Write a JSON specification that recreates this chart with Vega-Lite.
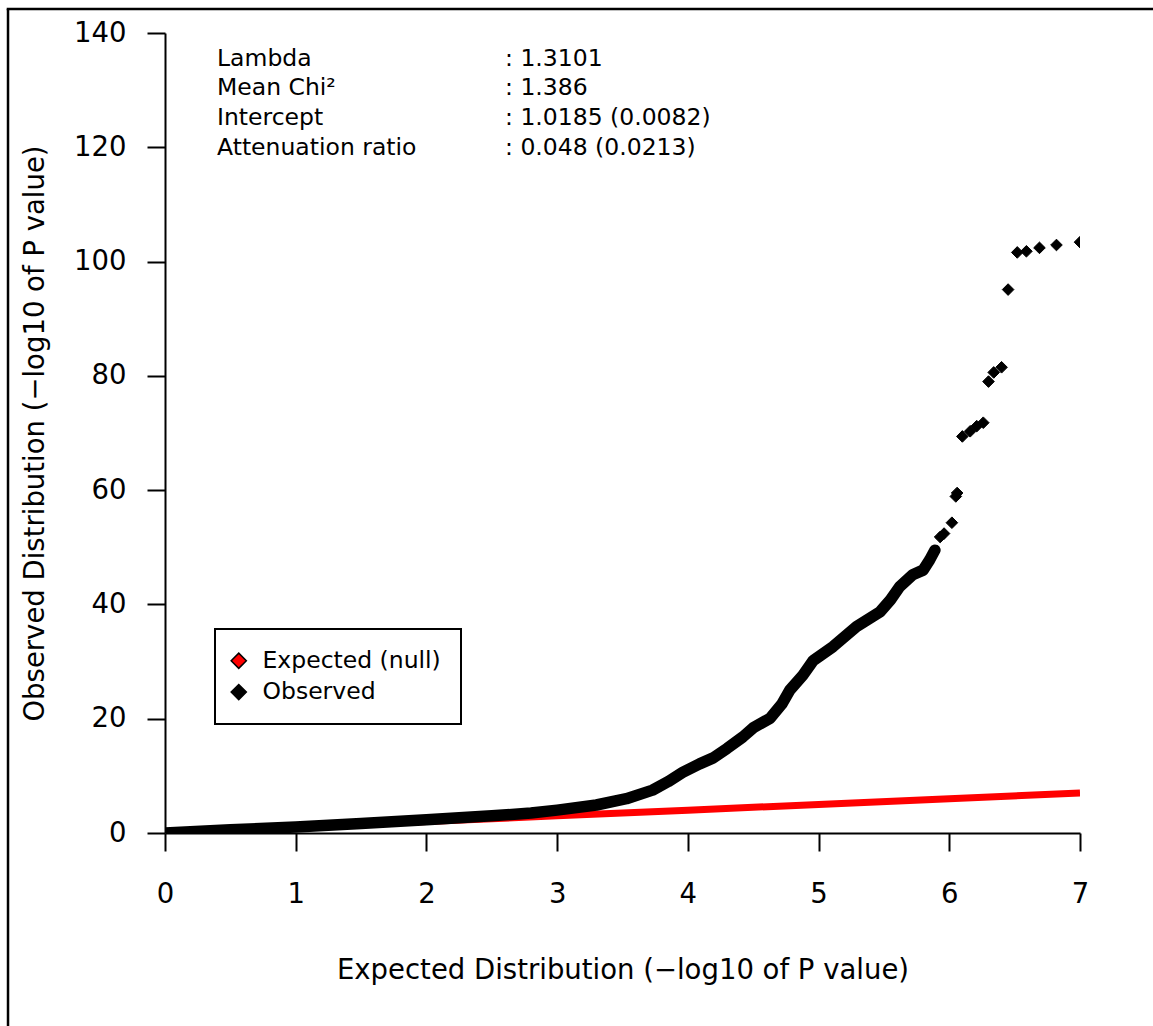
{
  "$schema": "https://vega.github.io/schema/vega-lite/v6.json",
  "width": 915,
  "height": 800,
  "autosize": "none",
  "padding": {"left": 165, "top": 33, "right": 73, "bottom": 193},
  "background": "white",
  "config": {
    "font": "DejaVu Sans",
    "view": {"stroke": null},
    "legend": {"strokeWidth": 2},
    "axis": {
      "domainColor": "black", "domainWidth": 2,
      "tickColor": "black", "tickWidth": 2, "tickSize": 18,
      "labelFont": "DejaVu Sans", "labelFontSize": 27.5, "labelColor": "black",
      "titleFont": "DejaVu Sans", "titleFontSize": 27.5, "titleFontWeight": "normal", "titleColor": "black",
      "grid": false, "labelFlush": false, "labelOverlap": false
    }
  },
  "datasets": {
    "frame": [{"edge": "border"}],
    "expected": [
      {"x": 0, "y": 0}, {"x": 1, "y": 1}, {"x": 2, "y": 2}, {"x": 3, "y": 3},
      {"x": 4, "y": 4}, {"x": 5, "y": 5}, {"x": 6, "y": 6}, {"x": 7, "y": 7}
    ],
    "observed_dense": [
      {"x": 0, "y": 0}, {"x": 0.5, "y": 0.55}, {"x": 1, "y": 1.05}, {"x": 1.5, "y": 1.65},
      {"x": 2, "y": 2.3}, {"x": 2.5, "y": 3.0}, {"x": 2.8, "y": 3.5}, {"x": 3.0, "y": 4.0},
      {"x": 3.3, "y": 4.9}, {"x": 3.53, "y": 6.0}, {"x": 3.73, "y": 7.5}, {"x": 3.85, "y": 9.0},
      {"x": 3.96, "y": 10.6}, {"x": 4.09, "y": 12.1}, {"x": 4.19, "y": 13.1}, {"x": 4.3, "y": 14.8},
      {"x": 4.42, "y": 16.8}, {"x": 4.5, "y": 18.4}, {"x": 4.63, "y": 20.1}, {"x": 4.72, "y": 22.6},
      {"x": 4.78, "y": 25.0}, {"x": 4.88, "y": 27.6}, {"x": 4.96, "y": 30.2}, {"x": 5.11, "y": 32.6},
      {"x": 5.29, "y": 36.1}, {"x": 5.47, "y": 38.7}, {"x": 5.55, "y": 40.8}, {"x": 5.62, "y": 43.1},
      {"x": 5.72, "y": 45.2}, {"x": 5.80, "y": 46.0}, {"x": 5.85, "y": 47.8}, {"x": 5.89, "y": 49.5}
    ],
    "observed_tail": [
      {"series": "Observed", "x": 5.93, "y": 51.8}, {"series": "Observed", "x": 5.96, "y": 52.4},
      {"series": "Observed", "x": 6.02, "y": 54.3}, {"series": "Observed", "x": 6.05, "y": 58.9},
      {"series": "Observed", "x": 6.06, "y": 59.5}, {"series": "Observed", "x": 6.10, "y": 69.4},
      {"series": "Observed", "x": 6.16, "y": 70.3}, {"series": "Observed", "x": 6.21, "y": 71.2},
      {"series": "Observed", "x": 6.26, "y": 71.8}, {"series": "Observed", "x": 6.30, "y": 79.0},
      {"series": "Observed", "x": 6.34, "y": 80.6}, {"series": "Observed", "x": 6.40, "y": 81.5},
      {"series": "Observed", "x": 6.45, "y": 95.1}, {"series": "Observed", "x": 6.52, "y": 101.6},
      {"series": "Observed", "x": 6.59, "y": 101.8}, {"series": "Observed", "x": 6.69, "y": 102.4},
      {"series": "Observed", "x": 6.82, "y": 102.9}, {"series": "Observed", "x": 7.0, "y": 103.4}
    ],
    "stats": [
      {"i": 0, "label": "Lambda", "value": ": 1.3101"},
      {"i": 1, "label": "Mean Chi²", "value": ": 1.386"},
      {"i": 2, "label": "Intercept", "value": ": 1.0185 (0.0082)"},
      {"i": 3, "label": "Attenuation ratio", "value": ": 0.048 (0.0213)"}
    ]
  },
  "layer": [
    {
      "layer": [
        {
          "data": {"name": "expected"},
          "mark": {"type": "line", "color": "#ff0000", "strokeWidth": 7, "clip": true},
          "encoding": {
            "x": {
              "field": "x", "type": "quantitative",
              "scale": {"domain": [0, 7], "nice": false, "zero": false},
              "axis": {
                "values": [0, 1, 2, 3, 4, 5, 6, 7], "format": "d", "labelPadding": 29,
                "title": "Expected Distribution (−log10 of P value)",
                "titleY": 145, "titleBaseline": "alphabetic"
              }
            },
            "y": {
              "field": "y", "type": "quantitative",
              "scale": {"domain": [0, 140], "nice": false, "zero": false},
              "axis": {
                "values": [0, 20, 40, 60, 80, 100, 120, 140], "format": "d", "labelPadding": 21,
                "title": "Observed Distribution (−log10 of P value)",
                "titleX": -122, "titleY": 400, "titleAngle": -90,
                "titleAlign": "center", "titleBaseline": "alphabetic"
              }
            }
          }
        },
        {
          "data": {"name": "frame"},
          "mark": {"type": "rule", "color": "black", "strokeWidth": 2.5, "clip": false},
          "encoding": {
            "x": {"datum": -1.201, "type": "quantitative"},
            "y": {"datum": 144.2, "type": "quantitative"},
            "y2": {"datum": -35}
          }
        },
        {
          "data": {"name": "frame"},
          "mark": {"type": "rule", "color": "black", "strokeWidth": 2.5, "clip": false},
          "encoding": {
            "x": {"datum": -1.211, "type": "quantitative"},
            "x2": {"datum": 7.6},
            "y": {"datum": 144.2, "type": "quantitative"}
          }
        },
        {
          "data": {"name": "observed_dense"},
          "mark": {"type": "line", "color": "#000000", "strokeWidth": 11.5, "strokeJoin": "round", "strokeCap": "round", "clip": true},
          "encoding": {
            "x": {"field": "x", "type": "quantitative"},
            "y": {"field": "y", "type": "quantitative"}
          }
        },
        {
          "data": {"name": "observed_tail"},
          "mark": {"type": "point", "shape": "diamond", "filled": true, "size": 135, "stroke": "black", "strokeWidth": 1, "opacity": 1, "clip": true},
          "encoding": {
            "x": {"field": "x", "type": "quantitative"},
            "y": {"field": "y", "type": "quantitative"},
            "fill": {
              "field": "series", "type": "nominal",
              "scale": {"domain": ["Expected (null)", "Observed"], "range": ["#ff0000", "#000000"]},
              "legend": {
                "orient": "none", "legendX": 50, "legendY": 596, "title": null,
                "symbolType": "diamond", "symbolSize": 230, "symbolStrokeColor": "black", "symbolStrokeWidth": 1.5,
                "symbolOpacity": 1, "symbolOffset": -8,
                "labelFont": "DejaVu Sans", "labelFontSize": 23.5, "labelColor": "black", "labelLimit": 400,
                "labelOffset": 12, "padding": 20, "rowPadding": 6.3,
                "strokeColor": "black", "fillColor": "white"
              }
            }
          }
        }
      ]
    },
    {
      "data": {"name": "stats"},
      "encoding": {
        "y": {
          "field": "i", "type": "quantitative",
          "scale": {"domain": [-1.097, 25.749], "reverse": true, "nice": false, "zero": false},
          "axis": null
        }
      },
      "layer": [
        {
          "mark": {"type": "text", "align": "left", "baseline": "alphabetic", "fontSize": 23.5, "color": "black"},
          "encoding": {"x": {"datum": 0.398, "type": "quantitative"}, "text": {"field": "label"}}
        },
        {
          "mark": {"type": "text", "align": "left", "baseline": "alphabetic", "fontSize": 23.5, "color": "black"},
          "encoding": {"x": {"datum": 2.601, "type": "quantitative"}, "text": {"field": "value"}}
        }
      ]
    }
  ],
  "resolve": {"scale": {"y": "independent"}}
}
